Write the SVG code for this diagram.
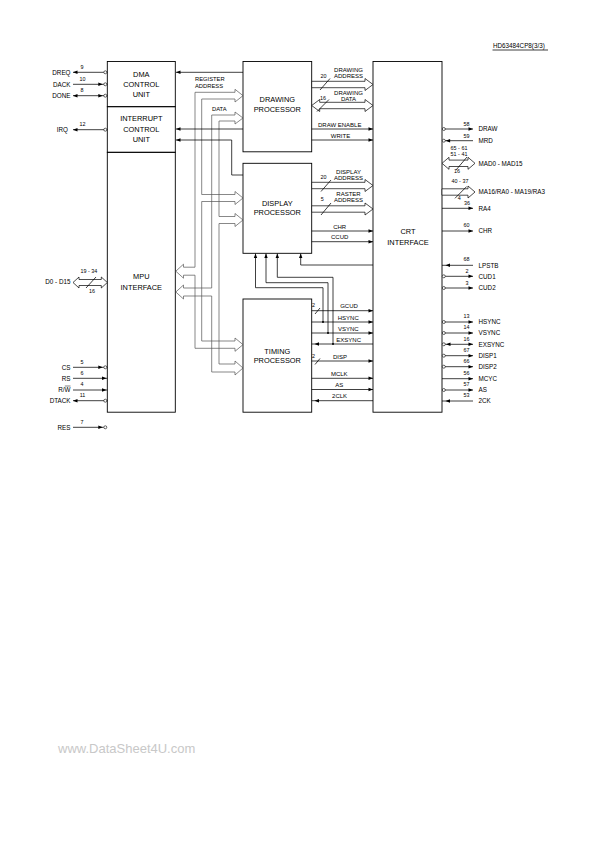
<svg xmlns="http://www.w3.org/2000/svg" xmlns:xlink="http://www.w3.org/1999/xlink" width="595" height="841" viewBox="0 0 595 841">
<style>
.bx{fill:none;stroke:#000;stroke-width:0.9}
.l{fill:none;stroke:#000;stroke-width:0.75}
.bus{fill:none;stroke:#555;stroke-width:0.7}
.hb{fill:#fff;stroke:#000;stroke-width:0.7}
.pc{fill:#fff;stroke:#000;stroke-width:0.6}
.dot{fill:#000}
text{font-family:"Liberation Sans",Arial,sans-serif;fill:#000}
.t{font-size:7.4px;text-anchor:middle}
.pl{font-size:6.3px}
.pn{font-size:5.4px;text-anchor:middle}
.il{font-size:6px;text-anchor:middle}
.wm{font-size:13px;fill:#c8c8c8}
</style>
<defs>
<path id="ah" d="M0,0 L-4.5,-1.7 L-4.5,1.7 Z" fill="#000"/>
</defs>
<rect width="595" height="841" fill="#fff"/>

<g id="header">
<text x="493" y="48" class="pl">HD63484CP8(3/3)</text>
<line x1="492.5" y1="50" x2="548" y2="50" class="l"/>
</g>

<g id="dma">
<rect x="107.3" y="61.5" width="68" height="45.2" class="bx"/>
<text x="141.3" y="76.7" class="t">DMA</text>
<text x="141.3" y="87" class="t">CONTROL</text>
<text x="141.3" y="97.2" class="t">UNIT</text>
</g>
<g id="interrupt">
<rect x="107.3" y="106.7" width="68" height="45.6" class="bx"/>
<text x="141.3" y="121.2" class="t">INTERRUPT</text>
<text x="141.3" y="131.5" class="t">CONTROL</text>
<text x="141.3" y="141.7" class="t">UNIT</text>
</g>
<g id="mpu">
<rect x="107.3" y="152.3" width="68" height="259.9" class="bx"/>
<text x="141.3" y="278.7" class="t">MPU</text>
<text x="141.3" y="290" class="t">INTERFACE</text>
</g>
<g id="drawing">
<rect x="243" y="61.5" width="68.7" height="90.3" class="bx"/>
<text x="277.3" y="102.2" class="t">DRAWING</text>
<text x="277.3" y="112" class="t">PROCESSOR</text>
</g>
<g id="display">
<rect x="243" y="163.3" width="68.7" height="90" class="bx"/>
<text x="277.3" y="206" class="t">DISPLAY</text>
<text x="277.3" y="215.4" class="t">PROCESSOR</text>
</g>
<g id="timing">
<rect x="243" y="299" width="68.7" height="113.2" class="bx"/>
<text x="277.3" y="353.7" class="t">TIMING</text>
<text x="277.3" y="363.4" class="t">PROCESSOR</text>
</g>
<g id="crt">
<rect x="373" y="61.5" width="69" height="350.7" class="bx"/>
<text x="408" y="234.4" class="t">CRT</text>
<text x="408" y="245" class="t">INTERFACE</text>
</g>

<g id="connectors">
<!-- internal buses -->
<path class="bus" d="M183.5,267.2 H195 V92.3 H235 V89.3 L243,95.65 L235,102 V99 H201.7 V194.5 H235 V191.5 L243,198 L235,204.5 V201.5 H201.7 V341 H235 V338 L243,344.65 L235,351.3 V348.3 H195 V275.2 H183.5 V278.2 L175.8,271.2 L183.5,264.2 Z"/>
<path class="bus" d="M183.5,288 H211.7 V115 H235 V112 L243,118 L235,124 V121 H219 V216.5 H235 V213.5 L243,220 L235,226.5 V223.5 H219 V364 H235 V361 L243,368 L235,375 V372 H211.7 V296 H183.5 V299 L175.8,292 L183.5,285 Z"/>
<text x="195" y="80.5" class="pl" style="font-size:5.8px">REGISTER</text>
<text x="195" y="88.3" class="pl" style="font-size:5.8px">ADDRESS</text>
<text x="212" y="111.2" class="pl" style="font-size:5.8px">DATA</text>

<!-- lines to left block -->
<path class="l" d="M243,72.3 H176"/><use xlink:href="#ah" transform="translate(176,72.3) rotate(180)"/>
<path class="l" d="M243,129 H176"/><use xlink:href="#ah" transform="translate(176,129) rotate(180)"/>
<path class="l" d="M243,175 H231.7 V140 H176"/><use xlink:href="#ah" transform="translate(176,140) rotate(180)"/>

<!-- drawing processor outputs -->
<path class="hb" d="M311.7,81.3 H365 V78.5 L373,84.5 L365,90.5 V87.7 H311.7 Z"/>
<line class="l" x1="320" y1="90" x2="330" y2="78.5"/>
<text x="323.5" y="77.7" class="pn">20</text>
<text x="348.5" y="72.2" class="il">DRAWING</text>
<text x="348.5" y="78.2" class="il">ADDRESS</text>
<path class="hb" d="M319.7,102.3 H365 V99.5 L373,105.5 L365,111.5 V108.7 H319.7 V111.5 L311.7,105.5 L319.7,99.5 Z"/>
<line class="l" x1="317" y1="111.5" x2="329" y2="99.5"/>
<text x="323" y="100" class="pn">16</text>
<text x="348.5" y="95" class="il">DRAWING</text>
<text x="348.5" y="100.8" class="il">DATA</text>
<path class="l" d="M311.7,129 H373"/><use xlink:href="#ah" transform="translate(373,129)"/>
<text x="339.7" y="126.6" class="il">DRAW ENABLE</text>
<path class="l" d="M311.7,140 H373"/><use xlink:href="#ah" transform="translate(373,140)"/>
<text x="340.5" y="138" class="il">WRITE</text>

<!-- display processor outputs -->
<path class="hb" d="M311.7,182.3 H365 V179.5 L373,185.5 L365,191.5 V188.7 H311.7 Z"/>
<line class="l" x1="321" y1="191.5" x2="331" y2="180"/>
<text x="323.5" y="179" class="pn">20</text>
<text x="348.5" y="174" class="il">DISPLAY</text>
<text x="348.5" y="180" class="il">ADDRESS</text>
<path class="hb" d="M311.7,205.8 H365 V203 L373,209 L365,215 V212.2 H311.7 Z"/>
<line class="l" x1="321" y1="215" x2="331" y2="203"/>
<text x="322.3" y="200.5" class="pn">5</text>
<text x="348.5" y="196.2" class="il">RASTER</text>
<text x="348.5" y="202.4" class="il">ADDRESS</text>
<path class="l" d="M311.7,231 H373"/><use xlink:href="#ah" transform="translate(373,231)"/>
<text x="339.7" y="228.7" class="il">CHR</text>
<path class="l" d="M311.7,241.7 H373"/><use xlink:href="#ah" transform="translate(373,241.7)"/>
<text x="339.7" y="239.4" class="il">CCUD</text>

<!-- inputs to display processor -->
<path class="l" d="M373,265 H300.7 V253.6"/><use xlink:href="#ah" transform="translate(300.7,253.6) rotate(-90)"/>
<path class="l" d="M323,322 V287.7 H255.5 V253.6"/><use xlink:href="#ah" transform="translate(255.5,253.6) rotate(-90)"/>
<path class="l" d="M328,333 V282.7 H266 V253.6"/><use xlink:href="#ah" transform="translate(266,253.6) rotate(-90)"/>
<path class="l" d="M333,344 V277.3 H277.3 V253.6"/><use xlink:href="#ah" transform="translate(277.3,253.6) rotate(-90)"/>
<circle class="dot" cx="323" cy="322" r="1"/>
<circle class="dot" cx="328" cy="333" r="1"/>
<circle class="dot" cx="333" cy="344" r="1"/>

<!-- timing processor lines -->
<path class="l" d="M311.7,310.7 H373"/><use xlink:href="#ah" transform="translate(373,310.7)"/>
<line class="l" x1="315" y1="314" x2="320" y2="308"/>
<text x="313.5" y="306.8" class="pn">2</text>
<text x="349" y="308.4" class="il">GCUD</text>
<path class="l" d="M311.7,322 H373"/><use xlink:href="#ah" transform="translate(373,322)"/>
<text x="348.3" y="319.7" class="il">HSYNC</text>
<path class="l" d="M311.7,333 H373"/><use xlink:href="#ah" transform="translate(373,333)"/>
<text x="348.3" y="330.7" class="il">VSYNC</text>
<path class="l" d="M311.7,344 H373"/><use xlink:href="#ah" transform="translate(314.5,344) rotate(180)"/>
<text x="348.7" y="341.7" class="il">EXSYNC</text>
<path class="l" d="M311.7,361 H373"/><use xlink:href="#ah" transform="translate(373,361)"/>
<line class="l" x1="315" y1="364.5" x2="320" y2="358.5"/>
<text x="313.5" y="357.5" class="pn">2</text>
<text x="340" y="358.7" class="il">DISP</text>
<path class="l" d="M311.7,378.3 H373"/><use xlink:href="#ah" transform="translate(373,378.3)"/>
<text x="339.3" y="376" class="il">MCLK</text>
<path class="l" d="M311.7,389.5 H373"/><use xlink:href="#ah" transform="translate(373,389.5)"/>
<text x="339.3" y="387.2" class="il">AS</text>
<path class="l" d="M311.7,400.7 H373"/><use xlink:href="#ah" transform="translate(314.5,400.7) rotate(180)"/>
<text x="339.6" y="398.4" class="il">2CLK</text>
</g>

<g id="left-pins">
<g id="pin-dreq"><line class="l" x1="73" y1="72.3" x2="107.3" y2="72.3"/><use xlink:href="#ah" transform="translate(73,72.3) rotate(180)"/><circle class="pc" cx="105.3" cy="72.3" r="1.5"/><text x="70.5" y="74.5" class="pl" text-anchor="end">DREQ</text><text x="82" y="69.3" class="pn">9</text></g>
<g id="pin-dack"><line class="l" x1="73" y1="84.3" x2="107.3" y2="84.3"/><use xlink:href="#ah" transform="translate(102.8,84.3)"/><circle class="pc" cx="105.3" cy="84.3" r="1.5"/><text x="70.5" y="86.5" class="pl" text-anchor="end">DACK</text><text x="82.5" y="80.6" class="pn">10</text></g>
<g id="pin-done"><line class="l" x1="73" y1="95.7" x2="107.3" y2="95.7"/><use xlink:href="#ah" transform="translate(73,95.7) rotate(180)"/><use xlink:href="#ah" transform="translate(102.8,95.7)"/><circle class="pc" cx="105.3" cy="95.7" r="1.5"/><text x="70.5" y="97.9" class="pl" text-anchor="end">DONE</text><text x="82" y="92" class="pn">8</text></g>
<g id="pin-irq"><line class="l" x1="73" y1="129.7" x2="107.3" y2="129.7"/><use xlink:href="#ah" transform="translate(73,129.7) rotate(180)"/><circle class="pc" cx="105.3" cy="129.7" r="1.5"/><text x="68" y="131.9" class="pl" text-anchor="end">IRQ</text><text x="82.5" y="126" class="pn">12</text></g>
<g id="pin-d"><path class="hb" d="M79,279.5 H101.3 V277 L107.3,282.5 L101.3,288 V285.5 H79 V288 L73,282.5 L79,277 Z"/><line class="l" x1="86" y1="288" x2="96" y2="277"/><text x="88.8" y="272.6" class="pn">19 - 34</text><text x="92" y="293" class="pn">16</text><text x="70.5" y="284.3" class="pl" text-anchor="end">D0 - D15</text></g>
<g id="pin-cs"><line class="l" x1="73" y1="367.3" x2="107.3" y2="367.3"/><use xlink:href="#ah" transform="translate(102.8,367.3)"/><circle class="pc" cx="105.3" cy="367.3" r="1.5"/><text x="70.5" y="369.5" class="pl" text-anchor="end">CS</text><text x="82" y="363.6" class="pn">5</text></g>
<g id="pin-rs"><line class="l" x1="73" y1="378.3" x2="107.3" y2="378.3"/><use xlink:href="#ah" transform="translate(106.5,378.3)"/><text x="70.5" y="380.5" class="pl" text-anchor="end">RS</text><text x="82" y="374.6" class="pn">6</text></g>
<g id="pin-rw"><line class="l" x1="73" y1="390" x2="107.3" y2="390"/><use xlink:href="#ah" transform="translate(106.5,390)"/><text x="70.5" y="392.2" class="pl" text-anchor="end">R/W</text><line class="l" x1="64.8" y1="386" x2="70.5" y2="386" style="stroke-width:0.5"/><text x="82" y="386.3" class="pn">4</text></g>
<g id="pin-dtack"><line class="l" x1="73" y1="400.7" x2="107.3" y2="400.7"/><use xlink:href="#ah" transform="translate(73,400.7) rotate(180)"/><circle class="pc" cx="105.3" cy="400.7" r="1.5"/><text x="70.5" y="402.9" class="pl" text-anchor="end">DTACK</text><text x="82.5" y="397" class="pn">11</text></g>
<g id="pin-res"><line class="l" x1="73" y1="427.3" x2="103.8" y2="427.3"/><use xlink:href="#ah" transform="translate(102.8,427.3)"/><circle class="pc" cx="105.3" cy="427.3" r="1.5"/><text x="70.5" y="429.5" class="pl" text-anchor="end">RES</text><text x="82" y="423.6" class="pn">7</text></g>
</g>

<g id="right-pins">
<g id="pin-draw"><line class="l" x1="442" y1="129" x2="473" y2="129"/><circle class="pc" cx="443.8" cy="129" r="1.5"/><use xlink:href="#ah" transform="translate(473,129)"/><text x="466.5" y="126" class="pn">58</text><text x="478.5" y="131.2" class="pl">DRAW</text></g>
<g id="pin-mrd"><line class="l" x1="442" y1="140.7" x2="473" y2="140.7"/><circle class="pc" cx="443.8" cy="140.7" r="1.5"/><use xlink:href="#ah" transform="translate(445.6,140.7) rotate(180)"/><text x="466.5" y="137.7" class="pn">59</text><text x="478.5" y="142.9" class="pl">MRD</text></g>
<g id="pin-mad"><path class="hb" d="M449,160.1 H468 V157.3 L475,163.3 L468,169.3 V166.5 H449 V169.3 L442,163.3 L449,157.3 Z"/><line class="l" x1="456" y1="170" x2="467" y2="157"/><text x="459" y="150.3" class="pn">65 - 61</text><text x="459" y="155.8" class="pn">51 - 41</text><text x="457" y="172.5" class="pn">16</text><text x="478.5" y="165.5" class="pl">MAD0 - MAD15</text></g>
<g id="pin-ma"><path class="hb" d="M442,188.8 H468 V186 L475,192 L468,198 V195.2 H442 Z"/><line class="l" x1="455" y1="198.3" x2="466.7" y2="186.5"/><text x="460" y="183" class="pn">40 - 37</text><text x="459.3" y="199.7" class="pn">4</text><text x="478.5" y="194.2" class="pl">MA16/RA0 - MA19/RA3</text></g>
<g id="pin-ra4"><line class="l" x1="442" y1="208.3" x2="473" y2="208.3"/><use xlink:href="#ah" transform="translate(473,208.3)"/><text x="467" y="204.6" class="pn">36</text><text x="478.5" y="210.5" class="pl">RA4</text></g>
<g id="pin-chr"><line class="l" x1="442" y1="231" x2="473" y2="231"/><use xlink:href="#ah" transform="translate(473,231)"/><text x="466.5" y="227" class="pn">60</text><text x="478.5" y="233.2" class="pl">CHR</text></g>
<g id="pin-lpstb"><line class="l" x1="442" y1="265.3" x2="473" y2="265.3"/><use xlink:href="#ah" transform="translate(445.5,265.3) rotate(180)"/><text x="466.5" y="261.3" class="pn">68</text><text x="478.5" y="267.5" class="pl">LPSTB</text></g>
<g id="pin-cud1"><line class="l" x1="442" y1="276.3" x2="473" y2="276.3"/><circle class="pc" cx="443.8" cy="276.3" r="1.5"/><use xlink:href="#ah" transform="translate(473,276.3)"/><text x="467" y="273.2" class="pn">2</text><text x="478.5" y="278.5" class="pl">CUD1</text></g>
<g id="pin-cud2"><line class="l" x1="442" y1="288" x2="473" y2="288"/><circle class="pc" cx="443.8" cy="288" r="1.5"/><use xlink:href="#ah" transform="translate(473,288)"/><text x="467" y="284.9" class="pn">3</text><text x="478.5" y="290.2" class="pl">CUD2</text></g>
<g id="pin-hsync"><line class="l" x1="442" y1="322" x2="473" y2="322"/><circle class="pc" cx="443.8" cy="322" r="1.5"/><use xlink:href="#ah" transform="translate(473,322)"/><text x="466.5" y="318.2" class="pn">13</text><text x="478.5" y="324.2" class="pl">HSYNC</text></g>
<g id="pin-vsync"><line class="l" x1="442" y1="333" x2="473" y2="333"/><circle class="pc" cx="443.8" cy="333" r="1.5"/><use xlink:href="#ah" transform="translate(473,333)"/><text x="466.5" y="329.2" class="pn">14</text><text x="478.5" y="335.2" class="pl">VSYNC</text></g>
<g id="pin-exsync"><line class="l" x1="442" y1="344.3" x2="473" y2="344.3"/><circle class="pc" cx="443.8" cy="344.3" r="1.5"/><use xlink:href="#ah" transform="translate(446,344.3) rotate(180)"/><use xlink:href="#ah" transform="translate(473,344.3)"/><text x="466.5" y="340.5" class="pn">16</text><text x="478.5" y="346.5" class="pl">EXSYNC</text></g>
<g id="pin-disp1"><line class="l" x1="442" y1="355.7" x2="473" y2="355.7"/><circle class="pc" cx="443.8" cy="355.7" r="1.5"/><use xlink:href="#ah" transform="translate(473,355.7)"/><text x="466.5" y="351.9" class="pn">67</text><text x="478.5" y="357.9" class="pl">DISP1</text></g>
<g id="pin-disp2"><line class="l" x1="442" y1="366.7" x2="473" y2="366.7"/><circle class="pc" cx="443.8" cy="366.7" r="1.5"/><use xlink:href="#ah" transform="translate(473,366.7)"/><text x="466.5" y="362.9" class="pn">66</text><text x="478.5" y="368.9" class="pl">DISP2</text></g>
<g id="pin-mcyc"><line class="l" x1="442" y1="378.7" x2="473" y2="378.7"/><use xlink:href="#ah" transform="translate(473,378.7)"/><text x="466.5" y="374.9" class="pn">56</text><text x="478.5" y="380.9" class="pl">MCYC</text></g>
<g id="pin-as"><line class="l" x1="442" y1="390" x2="473" y2="390"/><circle class="pc" cx="443.8" cy="390" r="1.5"/><use xlink:href="#ah" transform="translate(473,390)"/><text x="466.5" y="386.2" class="pn">57</text><text x="478.5" y="392.2" class="pl">AS</text></g>
<g id="pin-2ck"><line class="l" x1="442" y1="401" x2="473" y2="401"/><use xlink:href="#ah" transform="translate(445.5,401) rotate(180)"/><text x="466.5" y="397.2" class="pn">53</text><text x="478.5" y="403.2" class="pl">2CK</text></g>
</g>

<text x="58" y="752.5" class="wm">www.DataSheet4U.com</text>
</svg>
